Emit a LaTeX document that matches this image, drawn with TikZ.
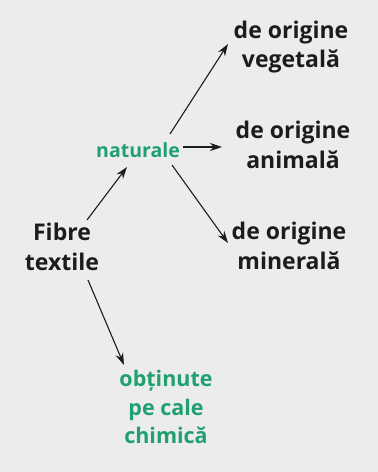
\documentclass[tikz,border=0pt]{standalone}
\usepackage{fontspec}
\setmainfont{Open Sans}
\usetikzlibrary{arrows.meta,positioning}
\definecolor{fibgreen}{RGB}{32,160,112}
\definecolor{fibink}{RGB}{28,28,28}
\definecolor{paper}{RGB}{236,236,236}
\tikzset{
  term/.style={text=fibink, align=center, inner sep=2pt,
               font=\fontsize{23}{29.5}\selectfont\bfseries},
  gterm/.style={term, text=fibgreen, font=\fontsize{21.5}{28.5}\selectfont\bfseries},
  flow/.style={-{Stealth[length=12pt,width=8pt]}, line width=1.1pt, draw=fibink},
}

\begin{document}
\begin{tikzpicture}[x=1pt,y=1pt]
    \fill[paper] (0,0) rectangle (378,472);
    \useasboundingbox (0,0) rectangle (378,472);
    \node[term] (fib) at (62,225) {Fibre\\ textile};
    \node[gterm, font=\fontsize{19.5}{24}\selectfont\bfseries] (nat) at (138,322) {naturale};
    \node[gterm] (obt) at (166,65) {obținute\\ pe cale\\ chimică};
    \node[term] (veg) at (291,425) {de origine\\ vegetală};
    \node[term] (anim) at (293,327) {de origine\\ animală};
    \node[term] (min) at (289,226) {de origine\\ minerală};
    % arrows from the root
    \draw[flow] ([shift={(25pt,27pt)}]fib.center) -- ([shift={(-11pt,-17pt)}]nat.center);
    \draw[flow] ([shift={(26pt,-33pt)}]fib.center) -- ([shift={(-42pt,42pt)}]obt.center);
    % arrows from naturale
    \draw[flow] ([shift={(32pt,16pt)}]nat.center) -- ([shift={(-63pt,3pt)}]veg.center);
    \draw[flow] ([shift={(45pt,3pt)}]nat.center) -- ([shift={(-71pt,-2pt)}]anim.center);
    \draw[flow] ([shift={(34pt,-15pt)}]nat.center) -- ([shift={(-61pt,3pt)}]min.center);
\end{tikzpicture}
\end{document}
